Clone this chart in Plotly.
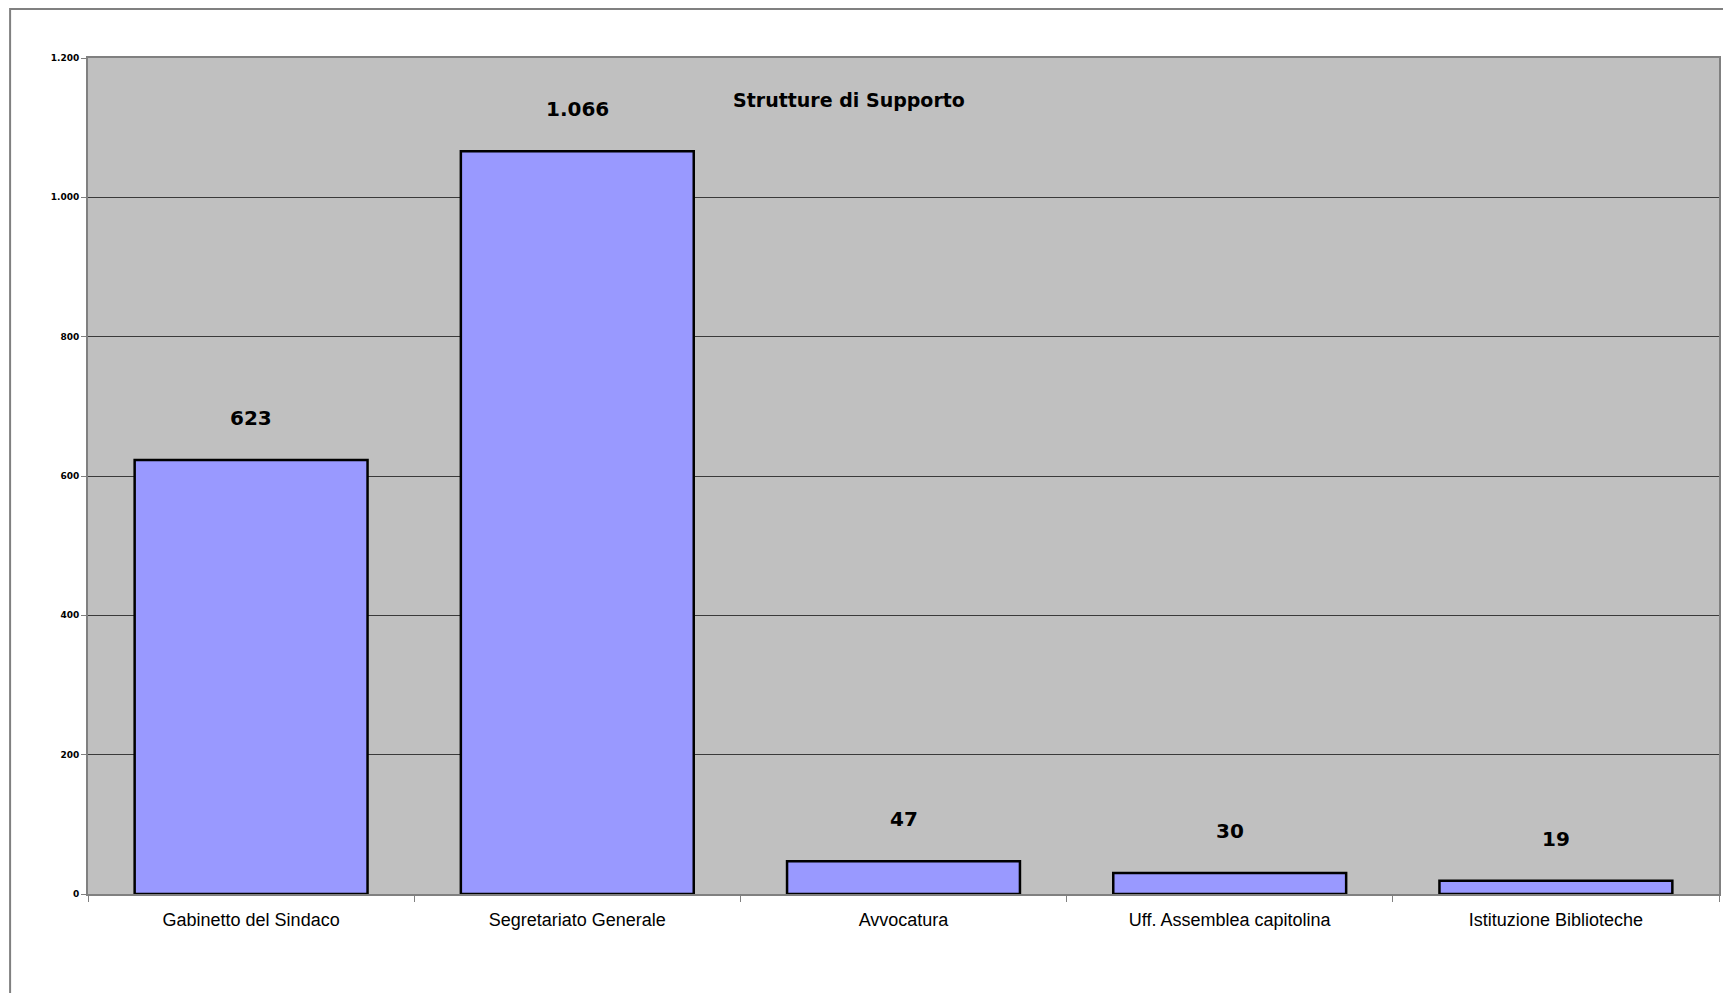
import plotly.graph_objects as go

# Personale per struttura di supporto
categorie = [
    "Gabinetto del Sindaco",
    "Segretariato Generale",
    "Avvocatura",
    "Uff. Assemblea capitolina",
    "Istituzione Biblioteche",
]
valori = [623, 1066, 47, 30, 19]
tick_valori = [0, 200, 400, 600, 800, 1000, 1200]

W, H = 1723, 993
ML, MR, MT, MB = 88, 2, 58, 99
plot_w = W - ML - MR
plot_h = H - MT - MB

fig = go.Figure()

fig.add_trace(go.Bar(
    x=categorie,
    y=valori,
    marker=dict(color="#9999FF", line=dict(color="#000000", width=2.5)),
    width=0.714,
    hoverinfo="skip",
))

# Etichette dei valori sopra le barre
for c, v in zip(categorie, valori):
    fig.add_annotation(
        x=c, y=v, xref="x", yref="y",
        text=f"{v:,}".replace(",", "."),
        showarrow=False, yshift=42, yanchor="middle",
        font=dict(family="DejaVu Sans", size=20, color="#000000", weight="bold"),
    )

# Titolo del grafico dentro l'area di tracciamento
fig.add_annotation(
    x=(850 - ML) / plot_w, y=(H - MB - 100) / plot_h, xref="paper", yref="paper",
    text="Strutture di Supporto", showarrow=False,
    xanchor="center", yanchor="middle",
    font=dict(family="DejaVu Sans", size=19, color="#000000", weight="bold"),
)

# Cornice esterna del grafico
fig.add_shape(
    type="rect", xref="paper", yref="paper",
    x0=(10 - ML) / plot_w, x1=(W + 20 - ML) / plot_w,
    y0=(H - MB - (H + 20)) / plot_h, y1=(H - MB - 9) / plot_h,
    line=dict(color="#808080", width=2), fillcolor="rgba(0,0,0,0)", layer="below",
)

fig.update_layout(
    width=W, height=H,
    margin=dict(l=ML, r=MR, t=MT, b=MB),
    paper_bgcolor="#FFFFFF",
    plot_bgcolor="#C0C0C0",
    separators=",.",
    showlegend=False,
    bargap=0.286,
    xaxis=dict(
        type="category",
        tickson="boundaries",
        ticks="outside", ticklen=6, tickcolor="#808080", tickwidth=1,
        ticklabelstandoff=8,
        showgrid=False,
        showline=True, linecolor="#808080", linewidth=2, mirror=True,
        tickfont=dict(family="Liberation Sans", size=18, color="#000000"),
        zeroline=False,
    ),
    yaxis=dict(
        range=[0, 1200],
        tickvals=tick_valori,
        tickformat=",d",
        ticks="outside", ticklen=5, tickcolor="#808080", tickwidth=1,
        showgrid=True, gridcolor="#3A3A3A", gridwidth=1,
        showline=True, linecolor="#808080", linewidth=2, mirror=True,
        zeroline=False,
        tickfont=dict(family="DejaVu Sans", size=9, color="#000000", weight="bold"),
    ),
)

fig.write_html("out.html")
